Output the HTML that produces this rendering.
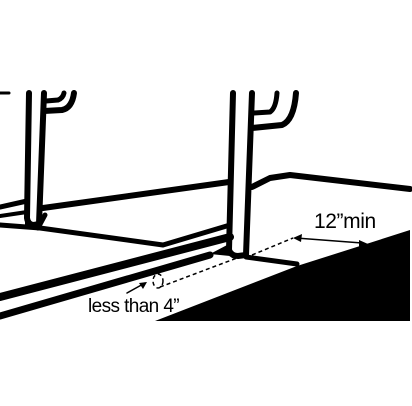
<!DOCTYPE html>
<html><head><meta charset="utf-8"><style>
html,body{margin:0;padding:0;background:#fff;}
svg{display:block;}
text{font-family:"Liberation Sans Narrow","Liberation Sans",sans-serif;fill:#000;}
</style></head><body>
<svg width="412" height="406" viewBox="0 0 412 406">
 <g fill="none" stroke="#000" stroke-linecap="round" stroke-linejoin="round">
  <line x1="0" y1="93" x2="9" y2="93" stroke-width="3"/>
  <g>
   <polyline points="0,207 27,201" stroke-width="5"/>
   <polyline points="0,216 27,212 27,226" stroke-width="4"/>
   <polyline points="43,208 229,182" stroke-width="6"/>
   <polyline points="252,187 270,178 290,175 410,189" stroke-width="6"/>
  </g>
  <g>
   <polyline points="0,225 40,228 163,245 230,225" stroke-width="5"/>
   <line x1="45" y1="215" x2="38" y2="228" stroke-width="5"/>
   <polyline points="246,257 297,264" stroke-width="5"/>
  </g>
  <g>
   <path d="M29,93 L27,218 Q28,225 34,225 L39,224 L44,93" stroke-width="6"/>
   <path d="M44,111 L62,110 Q72,108 74,93" stroke-width="6"/>
   <path d="M46,101 L58,100 Q63,98 64,93" stroke-width="5"/>
  </g>
  <g>
   <path d="M233,93 L229,250 Q231,256 238,256 L246,255 L252,93" stroke-width="6"/>
   <path d="M252,128 L282,125 Q294,120 296,93" stroke-width="6"/>
   <path d="M254,113 L270,112 Q276,108 277,93" stroke-width="5"/>
  </g>
  <g>
   <line x1="0" y1="297" x2="230" y2="237" stroke-width="8"/>
   <line x1="0" y1="316" x2="210" y2="255" stroke-width="7"/>
  </g>
  <g stroke-width="1.5" stroke-dasharray="4,3" stroke-linecap="butt">
   <line x1="160" y1="287" x2="237" y2="258"/>
   <line x1="252" y1="255" x2="293" y2="238"/>
   <ellipse cx="158" cy="281" rx="5" ry="7"/>
  </g>
  <g stroke-width="1.5">
   <line x1="127" y1="293" x2="145" y2="283"/>
   <line x1="296" y1="238" x2="362" y2="243"/>
  </g>
 </g>
 <polygon points="210,254 229,244 230,256" fill="#000"/>
 <polygon points="147,282 139,283 143,289" fill="#000"/>
 <polygon points="293,238 302,234 301,242" fill="#000"/>
 <polygon points="368,244 359,240 359,248" fill="#000"/>
 <polygon points="155,321 297,266 360,246 410,230 410,321" fill="#000"/>
 <text x="88" y="312" font-size="19" letter-spacing="-0.6">less than 4”</text>
 <text x="314" y="228" font-size="21" letter-spacing="-0.4">12”min</text>
</svg>
</body></html>
